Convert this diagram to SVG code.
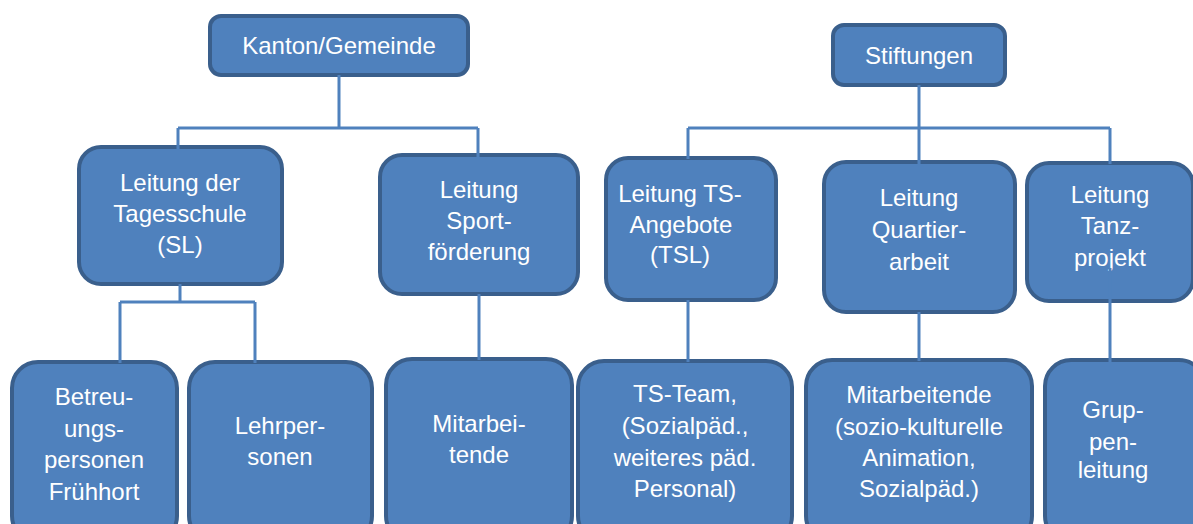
<svg xmlns="http://www.w3.org/2000/svg" width="1193" height="524" viewBox="0 0 1193 524">
  <style>
    .box { fill: #4F81BD; stroke: #3A5F8C; stroke-width: 4; }
    .lbl { font-family: "Liberation Sans", Arial, sans-serif; font-size: 24px; fill: #FFFFFF; text-anchor: middle; }
    .wire { fill: none; stroke: #4F81BD; stroke-width: 3; }
  </style>
  <rect width="1193" height="524" fill="#FFFFFF"/>

  <!-- Top level -->
  <g id="kanton">
    <rect class="box" x="210" y="16" width="258" height="59" rx="11"/>
    <text class="lbl" x="339" y="54">Kanton/Gemeinde</text>
  </g>
  <g id="stiftungen">
    <rect class="box" x="833" y="25" width="172" height="60" rx="11"/>
    <text class="lbl" x="919" y="64">Stiftungen</text>
  </g>

  <!-- Middle level -->
  <g id="leitung-tagesschule">
    <rect class="box" x="79" y="147" width="203" height="137" rx="22"/>
    <text class="lbl" x="180" y="191">Leitung der</text>
    <text class="lbl" x="180" y="222">Tagesschule</text>
    <text class="lbl" x="180" y="253">(SL)</text>
  </g>
  <g id="leitung-sport">
    <rect class="box" x="380" y="155" width="198" height="139" rx="22"/>
    <text class="lbl" x="479" y="198">Leitung</text>
    <text class="lbl" x="479" y="229">Sport-</text>
    <text class="lbl" x="479" y="260">förderung</text>
  </g>
  <g id="leitung-ts">
    <rect class="box" x="606" y="158" width="170" height="142" rx="22"/>
    <text class="lbl" x="680" y="202">Leitung TS-</text>
    <text class="lbl" x="681" y="233">Angebote</text>
    <text class="lbl" x="680" y="263">(TSL)</text>
  </g>
  <g id="leitung-quartier">
    <rect class="box" x="824" y="162" width="191" height="150" rx="22"/>
    <text class="lbl" x="919" y="206">Leitung</text>
    <text class="lbl" x="919" y="238">Quartier-</text>
    <text class="lbl" x="919" y="270">arbeit</text>
  </g>
  <g id="leitung-tanz">
    <rect class="box" x="1027" y="163" width="166" height="138" rx="22"/>
    <text class="lbl" x="1110" y="203">Leitung</text>
    <text class="lbl" x="1110" y="234">Tanz-</text>
    <text class="lbl" x="1110" y="266">projekt</text>
  </g>

  <!-- Bottom level -->
  <g id="betreuung">
    <rect class="box" x="12" y="362" width="165" height="180" rx="26"/>
    <text class="lbl" x="94" y="405">Betreu-</text>
    <text class="lbl" x="94" y="437">ungs-</text>
    <text class="lbl" x="94" y="468">personen</text>
    <text class="lbl" x="94" y="500">Frühhort</text>
  </g>
  <g id="lehrpersonen">
    <rect class="box" x="189" y="362" width="183" height="180" rx="26"/>
    <text class="lbl" x="280" y="434">Lehrper-</text>
    <text class="lbl" x="280" y="465">sonen</text>
  </g>
  <g id="mitarbeitende-sport">
    <rect class="box" x="386" y="359" width="186" height="183" rx="26"/>
    <text class="lbl" x="479" y="432">Mitarbei-</text>
    <text class="lbl" x="479" y="463">tende</text>
  </g>
  <g id="ts-team">
    <rect class="box" x="578" y="361" width="214" height="181" rx="26"/>
    <text class="lbl" x="685" y="402">TS-Team,</text>
    <text class="lbl" x="685" y="434">(Sozialpäd.,</text>
    <text class="lbl" x="685" y="466">weiteres päd.</text>
    <text class="lbl" x="685" y="497">Personal)</text>
  </g>
  <g id="mitarbeitende-quartier">
    <rect class="box" x="806" y="360" width="226" height="182" rx="26"/>
    <text class="lbl" x="919" y="403">Mitarbeitende</text>
    <text class="lbl" x="919" y="435">(sozio-kulturelle</text>
    <text class="lbl" x="919" y="466">Animation,</text>
    <text class="lbl" x="919" y="497">Sozialpäd.)</text>
  </g>
  <g id="gruppenleitung">
    <rect class="box" x="1045" y="360" width="160" height="182" rx="26"/>
    <text class="lbl" x="1113" y="418">Grup-</text>
    <text class="lbl" x="1113" y="450">pen-</text>
    <text class="lbl" x="1113" y="478">leitung</text>
  </g>

  <!-- Connectors, drawn over the node borders -->
  <g id="connectors">
    <path class="wire" d="M339,75 V128 M178,128 H478 M178,128 V150 M478,128 V157"/>
    <path class="wire" d="M180,284 V302 M120,302 H255 M120,302 V363 M255,302 V363"/>
    <path class="wire" d="M479,294 V360"/>
    <path class="wire" d="M919,85 V164 M688,128 H1110 M688,128 V159 M1110,128 V164"/>
    <path class="wire" d="M688,300 V362"/>
    <path class="wire" d="M919,312 V361"/>
    <path class="wire" d="M1110,268 V362"/>
  </g>
</svg>
